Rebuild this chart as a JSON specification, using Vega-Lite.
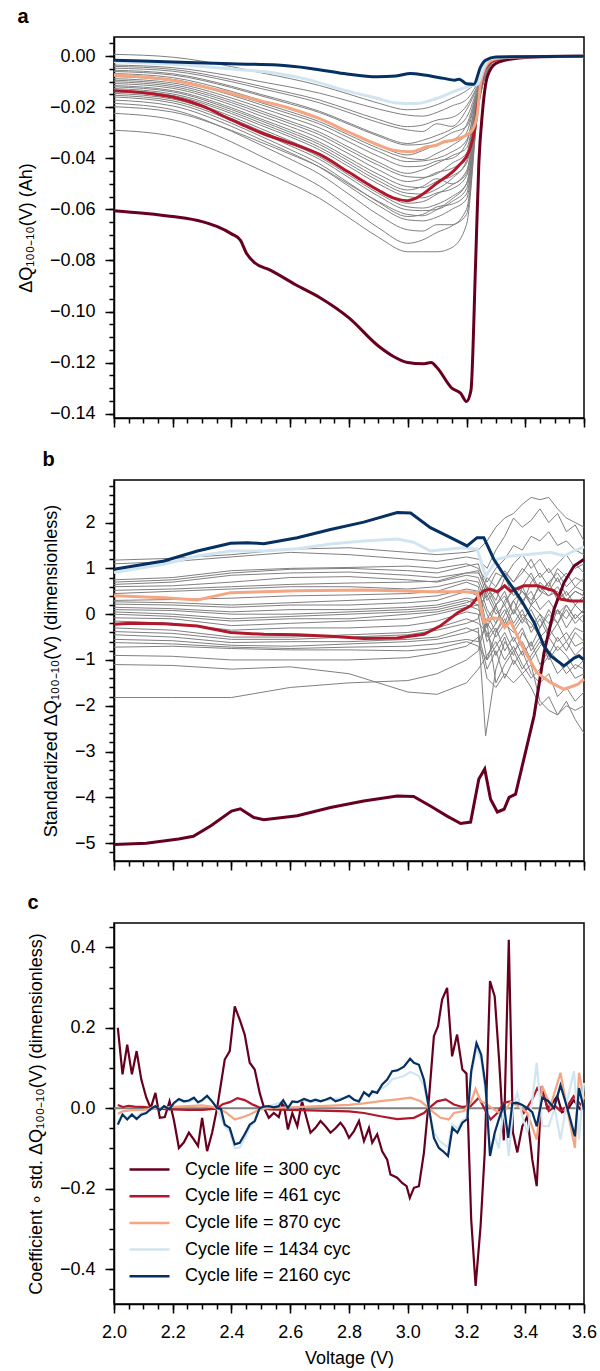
{
"$schema":"https://vega.github.io/schema/vega-lite/v6.json",
"padding":{"left":16,"top":6,"right":10,"bottom":5},
"spacing":20,
"config":{
 "font":"Liberation Sans",
 "view":{"stroke":"black","strokeWidth":1.5},
 "axis":{"domainColor":"black","domainWidth":1.5,"tickColor":"black","tickWidth":1.5,"labelFontSize":18,"titleFontSize":18,"labelColor":"black","titleColor":"black","titleFontWeight":"normal","grid":false,"labelFont":"Liberation Sans","titleFont":"Liberation Sans","labelFlush":false,"labelOverlap":false,"labelPadding":10,"titlePadding":14,"tickSize":9},
 "title":{"fontSize":20,"fontWeight":"bold","anchor":"start","color":"black","font":"Liberation Sans","offset":10},
 "legend":{"labelFont":"Liberation Sans","labelFontSize":18,"labelColor":"black","labelLimit":400}
},
"resolve":{"scale":{"color":"independent"},"legend":{"color":"independent"}},
"datasets":{
"ag":[
{"i":1,"v":2,"q":0.0007},{"i":1,"v":2.2,"q":-0.0004},{"i":1,"v":2.4,"q":-0.0041},{"i":1,"v":2.5,"q":-0.0065},{"i":1,"v":2.6,"q":-0.0088},{"i":1,"v":2.7,"q":-0.0115},{"i":1,"v":2.8,"q":-0.0149},{"i":1,"v":2.9,"q":-0.0184},{"i":1,"v":3,"q":-0.021},{"i":1,"v":3.05,"q":-0.0206},{"i":1,"v":3.1,"q":-0.019},{"i":1,"v":3.15,"q":-0.0165},{"i":1,"v":3.2,"q":-0.0135},{"i":1,"v":3.24,"q":-0.0095},{"i":1,"v":3.27,"q":-0.003},{"i":1,"v":3.3,"q":-0.001},{"i":1,"v":3.4,"q":-0.0002},{"i":1,"v":3.6,"q":0},
{"i":2,"v":2,"q":-0.0035},{"i":2,"v":2.2,"q":-0.0045},{"i":2,"v":2.4,"q":-0.0078},{"i":2,"v":2.5,"q":-0.01},{"i":2,"v":2.6,"q":-0.0121},{"i":2,"v":2.7,"q":-0.0145},{"i":2,"v":2.8,"q":-0.0176},{"i":2,"v":2.9,"q":-0.0207},{"i":2,"v":3,"q":-0.0231},{"i":2,"v":3.05,"q":-0.0235},{"i":2,"v":3.1,"q":-0.022},{"i":2,"v":3.15,"q":-0.0195},{"i":2,"v":3.2,"q":-0.017},{"i":2,"v":3.24,"q":-0.01},{"i":2,"v":3.27,"q":-0.003},{"i":2,"v":3.3,"q":-0.001},{"i":2,"v":3.4,"q":-0.0002},{"i":2,"v":3.6,"q":0},
{"i":3,"v":2,"q":-0.004},{"i":3,"v":2.2,"q":-0.0052},{"i":3,"v":2.4,"q":-0.0092},{"i":3,"v":2.5,"q":-0.0118},{"i":3,"v":2.6,"q":-0.0144},{"i":3,"v":2.7,"q":-0.0172},{"i":3,"v":2.8,"q":-0.021},{"i":3,"v":2.9,"q":-0.0248},{"i":3,"v":3,"q":-0.0276},{"i":3,"v":3.05,"q":-0.027},{"i":3,"v":3.1,"q":-0.025},{"i":3,"v":3.15,"q":-0.024},{"i":3,"v":3.2,"q":-0.0195},{"i":3,"v":3.24,"q":-0.011},{"i":3,"v":3.27,"q":-0.0035},{"i":3,"v":3.3,"q":-0.0012},{"i":3,"v":3.4,"q":-0.0002},{"i":3,"v":3.6,"q":0},
{"i":4,"v":2,"q":-0.0047},{"i":4,"v":2.2,"q":-0.0059},{"i":4,"v":2.4,"q":-0.01},{"i":4,"v":2.5,"q":-0.0127},{"i":4,"v":2.6,"q":-0.0153},{"i":4,"v":2.7,"q":-0.0183},{"i":4,"v":2.8,"q":-0.0221},{"i":4,"v":2.9,"q":-0.026},{"i":4,"v":3,"q":-0.0289},{"i":4,"v":3.05,"q":-0.0295},{"i":4,"v":3.1,"q":-0.0265},{"i":4,"v":3.15,"q":-0.0275},{"i":4,"v":3.2,"q":-0.021},{"i":4,"v":3.24,"q":-0.0115},{"i":4,"v":3.27,"q":-0.0035},{"i":4,"v":3.3,"q":-0.0012},{"i":4,"v":3.4,"q":-0.0002},{"i":4,"v":3.6,"q":0},
{"i":5,"v":2,"q":-0.0055},{"i":5,"v":2.2,"q":-0.0069},{"i":5,"v":2.4,"q":-0.0118},{"i":5,"v":2.5,"q":-0.015},{"i":5,"v":2.6,"q":-0.0181},{"i":5,"v":2.7,"q":-0.0216},{"i":5,"v":2.8,"q":-0.0262},{"i":5,"v":2.9,"q":-0.0308},{"i":5,"v":3,"q":-0.0342},{"i":5,"v":3.05,"q":-0.033},{"i":5,"v":3.1,"q":-0.031},{"i":5,"v":3.15,"q":-0.0285},{"i":5,"v":3.2,"q":-0.024},{"i":5,"v":3.24,"q":-0.012},{"i":5,"v":3.27,"q":-0.0035},{"i":5,"v":3.3,"q":-0.0012},{"i":5,"v":3.4,"q":-0.0002},{"i":5,"v":3.6,"q":0},
{"i":6,"v":2,"q":-0.006},{"i":6,"v":2.2,"q":-0.0074},{"i":6,"v":2.4,"q":-0.0123},{"i":6,"v":2.5,"q":-0.0155},{"i":6,"v":2.6,"q":-0.0187},{"i":6,"v":2.7,"q":-0.0221},{"i":6,"v":2.8,"q":-0.0267},{"i":6,"v":2.9,"q":-0.0313},{"i":6,"v":3,"q":-0.0348},{"i":6,"v":3.05,"q":-0.0345},{"i":6,"v":3.1,"q":-0.033},{"i":6,"v":3.15,"q":-0.03},{"i":6,"v":3.2,"q":-0.0275},{"i":6,"v":3.24,"q":-0.013},{"i":6,"v":3.27,"q":-0.004},{"i":6,"v":3.3,"q":-0.0012},{"i":6,"v":3.4,"q":-0.0002},{"i":6,"v":3.6,"q":0},
{"i":7,"v":2,"q":-0.0068},{"i":7,"v":2.2,"q":-0.0084},{"i":7,"v":2.4,"q":-0.0138},{"i":7,"v":2.5,"q":-0.0173},{"i":7,"v":2.6,"q":-0.0208},{"i":7,"v":2.7,"q":-0.0247},{"i":7,"v":2.8,"q":-0.0298},{"i":7,"v":2.9,"q":-0.0349},{"i":7,"v":3,"q":-0.0387},{"i":7,"v":3.05,"q":-0.037},{"i":7,"v":3.1,"q":-0.0345},{"i":7,"v":3.15,"q":-0.033},{"i":7,"v":3.2,"q":-0.027},{"i":7,"v":3.24,"q":-0.0125},{"i":7,"v":3.27,"q":-0.004},{"i":7,"v":3.3,"q":-0.0012},{"i":7,"v":3.4,"q":-0.0002},{"i":7,"v":3.6,"q":0},
{"i":8,"v":2,"q":-0.0075},{"i":8,"v":2.2,"q":-0.0091},{"i":8,"v":2.4,"q":-0.0147},{"i":8,"v":2.5,"q":-0.0182},{"i":8,"v":2.6,"q":-0.0218},{"i":8,"v":2.7,"q":-0.0257},{"i":8,"v":2.8,"q":-0.0309},{"i":8,"v":2.9,"q":-0.0361},{"i":8,"v":3,"q":-0.04},{"i":8,"v":3.05,"q":-0.0405},{"i":8,"v":3.1,"q":-0.038},{"i":8,"v":3.15,"q":-0.035},{"i":8,"v":3.2,"q":-0.03},{"i":8,"v":3.24,"q":-0.013},{"i":8,"v":3.27,"q":-0.004},{"i":8,"v":3.3,"q":-0.0013},{"i":8,"v":3.4,"q":-0.0002},{"i":8,"v":3.6,"q":0},
{"i":9,"v":2,"q":-0.008},{"i":9,"v":2.2,"q":-0.0097},{"i":9,"v":2.4,"q":-0.0153},{"i":9,"v":2.5,"q":-0.019},{"i":9,"v":2.6,"q":-0.0227},{"i":9,"v":2.7,"q":-0.0266},{"i":9,"v":2.8,"q":-0.032},{"i":9,"v":2.9,"q":-0.0373},{"i":9,"v":3,"q":-0.0413},{"i":9,"v":3.05,"q":-0.041},{"i":9,"v":3.1,"q":-0.04},{"i":9,"v":3.15,"q":-0.0375},{"i":9,"v":3.2,"q":-0.033},{"i":9,"v":3.24,"q":-0.014},{"i":9,"v":3.27,"q":-0.004},{"i":9,"v":3.3,"q":-0.0013},{"i":9,"v":3.4,"q":-0.0002},{"i":9,"v":3.6,"q":0},
{"i":10,"v":2,"q":-0.0088},{"i":10,"v":2.2,"q":-0.0105},{"i":10,"v":2.4,"q":-0.0164},{"i":10,"v":2.5,"q":-0.0202},{"i":10,"v":2.6,"q":-0.024},{"i":10,"v":2.7,"q":-0.0281},{"i":10,"v":2.8,"q":-0.0336},{"i":10,"v":2.9,"q":-0.0392},{"i":10,"v":3,"q":-0.0433},{"i":10,"v":3.05,"q":-0.043},{"i":10,"v":3.1,"q":-0.041},{"i":10,"v":3.15,"q":-0.04},{"i":10,"v":3.2,"q":-0.034},{"i":10,"v":3.24,"q":-0.0135},{"i":10,"v":3.27,"q":-0.004},{"i":10,"v":3.3,"q":-0.0013},{"i":10,"v":3.4,"q":-0.0002},{"i":10,"v":3.6,"q":0},
{"i":11,"v":2,"q":-0.0094},{"i":11,"v":2.2,"q":-0.0112},{"i":11,"v":2.4,"q":-0.0174},{"i":11,"v":2.5,"q":-0.0214},{"i":11,"v":2.6,"q":-0.0255},{"i":11,"v":2.7,"q":-0.0298},{"i":11,"v":2.8,"q":-0.0357},{"i":11,"v":2.9,"q":-0.0415},{"i":11,"v":3,"q":-0.0459},{"i":11,"v":3.05,"q":-0.0445},{"i":11,"v":3.1,"q":-0.042},{"i":11,"v":3.15,"q":-0.039},{"i":11,"v":3.2,"q":-0.036},{"i":11,"v":3.24,"q":-0.0145},{"i":11,"v":3.27,"q":-0.004},{"i":11,"v":3.3,"q":-0.0013},{"i":11,"v":3.4,"q":-0.0002},{"i":11,"v":3.6,"q":0},
{"i":12,"v":2,"q":-0.01},{"i":12,"v":2.2,"q":-0.0119},{"i":12,"v":2.4,"q":-0.0182},{"i":12,"v":2.5,"q":-0.0223},{"i":12,"v":2.6,"q":-0.0264},{"i":12,"v":2.7,"q":-0.0308},{"i":12,"v":2.8,"q":-0.0368},{"i":12,"v":2.9,"q":-0.0427},{"i":12,"v":3,"q":-0.0472},{"i":12,"v":3.05,"q":-0.0475},{"i":12,"v":3.1,"q":-0.046},{"i":12,"v":3.15,"q":-0.042},{"i":12,"v":3.2,"q":-0.038},{"i":12,"v":3.24,"q":-0.015},{"i":12,"v":3.27,"q":-0.0045},{"i":12,"v":3.3,"q":-0.0014},{"i":12,"v":3.4,"q":-0.0002},{"i":12,"v":3.6,"q":0},
{"i":13,"v":2,"q":-0.0107},{"i":13,"v":2.2,"q":-0.0126},{"i":13,"v":2.4,"q":-0.0191},{"i":13,"v":2.5,"q":-0.0234},{"i":13,"v":2.6,"q":-0.0276},{"i":13,"v":2.7,"q":-0.0322},{"i":13,"v":2.8,"q":-0.0383},{"i":13,"v":2.9,"q":-0.0445},{"i":13,"v":3,"q":-0.0491},{"i":13,"v":3.05,"q":-0.048},{"i":13,"v":3.1,"q":-0.0455},{"i":13,"v":3.15,"q":-0.044},{"i":13,"v":3.2,"q":-0.0395},{"i":13,"v":3.24,"q":-0.014},{"i":13,"v":3.27,"q":-0.0045},{"i":13,"v":3.3,"q":-0.0014},{"i":13,"v":3.4,"q":-0.0002},{"i":13,"v":3.6,"q":0},
{"i":14,"v":2,"q":-0.0115},{"i":14,"v":2.2,"q":-0.0135},{"i":14,"v":2.4,"q":-0.0202},{"i":14,"v":2.5,"q":-0.0246},{"i":14,"v":2.6,"q":-0.0289},{"i":14,"v":2.7,"q":-0.0337},{"i":14,"v":2.8,"q":-0.04},{"i":14,"v":2.9,"q":-0.0463},{"i":14,"v":3,"q":-0.0511},{"i":14,"v":3.05,"q":-0.0515},{"i":14,"v":3.1,"q":-0.049},{"i":14,"v":3.15,"q":-0.047},{"i":14,"v":3.2,"q":-0.042},{"i":14,"v":3.24,"q":-0.016},{"i":14,"v":3.27,"q":-0.0045},{"i":14,"v":3.3,"q":-0.0014},{"i":14,"v":3.4,"q":-0.0002},{"i":14,"v":3.6,"q":0},
{"i":15,"v":2,"q":-0.012},{"i":15,"v":2.2,"q":-0.014},{"i":15,"v":2.4,"q":-0.0209},{"i":15,"v":2.5,"q":-0.0253},{"i":15,"v":2.6,"q":-0.0298},{"i":15,"v":2.7,"q":-0.0346},{"i":15,"v":2.8,"q":-0.0411},{"i":15,"v":2.9,"q":-0.0476},{"i":15,"v":3,"q":-0.0524},{"i":15,"v":3.05,"q":-0.051},{"i":15,"v":3.1,"q":-0.048},{"i":15,"v":3.15,"q":-0.05},{"i":15,"v":3.2,"q":-0.045},{"i":15,"v":3.24,"q":-0.015},{"i":15,"v":3.27,"q":-0.0045},{"i":15,"v":3.3,"q":-0.0014},{"i":15,"v":3.4,"q":-0.0002},{"i":15,"v":3.6,"q":0},
{"i":16,"v":2,"q":-0.0127},{"i":16,"v":2.2,"q":-0.0148},{"i":16,"v":2.4,"q":-0.0217},{"i":16,"v":2.5,"q":-0.0262},{"i":16,"v":2.6,"q":-0.0307},{"i":16,"v":2.7,"q":-0.0357},{"i":16,"v":2.8,"q":-0.0422},{"i":16,"v":2.9,"q":-0.0488},{"i":16,"v":3,"q":-0.0537},{"i":16,"v":3.05,"q":-0.054},{"i":16,"v":3.1,"q":-0.052},{"i":16,"v":3.15,"q":-0.048},{"i":16,"v":3.2,"q":-0.041},{"i":16,"v":3.24,"q":-0.0165},{"i":16,"v":3.27,"q":-0.005},{"i":16,"v":3.3,"q":-0.0015},{"i":16,"v":3.4,"q":-0.0002},{"i":16,"v":3.6,"q":0},
{"i":17,"v":2,"q":-0.0133},{"i":17,"v":2.2,"q":-0.0154},{"i":17,"v":2.4,"q":-0.0225},{"i":17,"v":2.5,"q":-0.0271},{"i":17,"v":2.6,"q":-0.0316},{"i":17,"v":2.7,"q":-0.0367},{"i":17,"v":2.8,"q":-0.0433},{"i":17,"v":2.9,"q":-0.05},{"i":17,"v":3,"q":-0.055},{"i":17,"v":3.05,"q":-0.0555},{"i":17,"v":3.1,"q":-0.0535},{"i":17,"v":3.15,"q":-0.052},{"i":17,"v":3.2,"q":-0.047},{"i":17,"v":3.24,"q":-0.017},{"i":17,"v":3.27,"q":-0.005},{"i":17,"v":3.3,"q":-0.0015},{"i":17,"v":3.4,"q":-0.0002},{"i":17,"v":3.6,"q":0},
{"i":18,"v":2,"q":-0.014},{"i":18,"v":2.2,"q":-0.0162},{"i":18,"v":2.4,"q":-0.0236},{"i":18,"v":2.5,"q":-0.0284},{"i":18,"v":2.6,"q":-0.0332},{"i":18,"v":2.7,"q":-0.0384},{"i":18,"v":2.8,"q":-0.0454},{"i":18,"v":2.9,"q":-0.0524},{"i":18,"v":3,"q":-0.0576},{"i":18,"v":3.05,"q":-0.057},{"i":18,"v":3.1,"q":-0.054},{"i":18,"v":3.15,"q":-0.0505},{"i":18,"v":3.2,"q":-0.046},{"i":18,"v":3.24,"q":-0.016},{"i":18,"v":3.27,"q":-0.005},{"i":18,"v":3.3,"q":-0.0015},{"i":18,"v":3.4,"q":-0.0002},{"i":18,"v":3.6,"q":0},
{"i":19,"v":2,"q":-0.0146},{"i":19,"v":2.2,"q":-0.0168},{"i":19,"v":2.4,"q":-0.0244},{"i":19,"v":2.5,"q":-0.0293},{"i":19,"v":2.6,"q":-0.0341},{"i":19,"v":2.7,"q":-0.0395},{"i":19,"v":2.8,"q":-0.0466},{"i":19,"v":2.9,"q":-0.0537},{"i":19,"v":3,"q":-0.059},{"i":19,"v":3.05,"q":-0.0595},{"i":19,"v":3.1,"q":-0.058},{"i":19,"v":3.15,"q":-0.055},{"i":19,"v":3.2,"q":-0.05},{"i":19,"v":3.24,"q":-0.018},{"i":19,"v":3.27,"q":-0.0055},{"i":19,"v":3.3,"q":-0.0015},{"i":19,"v":3.4,"q":-0.0002},{"i":19,"v":3.6,"q":0},
{"i":20,"v":2,"q":-0.0153},{"i":20,"v":2.2,"q":-0.0175},{"i":20,"v":2.4,"q":-0.0252},{"i":20,"v":2.5,"q":-0.0301},{"i":20,"v":2.6,"q":-0.0351},{"i":20,"v":2.7,"q":-0.0404},{"i":20,"v":2.8,"q":-0.0476},{"i":20,"v":2.9,"q":-0.0548},{"i":20,"v":3,"q":-0.0602},{"i":20,"v":3.05,"q":-0.0605},{"i":20,"v":3.1,"q":-0.06},{"i":20,"v":3.15,"q":-0.057},{"i":20,"v":3.2,"q":-0.052},{"i":20,"v":3.24,"q":-0.017},{"i":20,"v":3.27,"q":-0.0055},{"i":20,"v":3.3,"q":-0.0016},{"i":20,"v":3.4,"q":-0.0002},{"i":20,"v":3.6,"q":0},
{"i":21,"v":2,"q":-0.016},{"i":21,"v":2.2,"q":-0.0183},{"i":21,"v":2.4,"q":-0.0263},{"i":21,"v":2.5,"q":-0.0314},{"i":21,"v":2.6,"q":-0.0366},{"i":21,"v":2.7,"q":-0.0422},{"i":21,"v":2.8,"q":-0.0497},{"i":21,"v":2.9,"q":-0.0572},{"i":21,"v":3,"q":-0.0628},{"i":21,"v":3.05,"q":-0.062},{"i":21,"v":3.1,"q":-0.059},{"i":21,"v":3.15,"q":-0.058},{"i":21,"v":3.2,"q":-0.054},{"i":21,"v":3.24,"q":-0.0185},{"i":21,"v":3.27,"q":-0.0055},{"i":21,"v":3.3,"q":-0.0016},{"i":21,"v":3.4,"q":-0.0002},{"i":21,"v":3.6,"q":0},
{"i":22,"v":2,"q":-0.0172},{"i":22,"v":2.2,"q":-0.0195},{"i":22,"v":2.4,"q":-0.0275},{"i":22,"v":2.5,"q":-0.0327},{"i":22,"v":2.6,"q":-0.0378},{"i":22,"v":2.7,"q":-0.0435},{"i":22,"v":2.8,"q":-0.051},{"i":22,"v":2.9,"q":-0.0585},{"i":22,"v":3,"q":-0.0641},{"i":22,"v":3.05,"q":-0.0645},{"i":22,"v":3.1,"q":-0.063},{"i":22,"v":3.15,"q":-0.06},{"i":22,"v":3.2,"q":-0.056},{"i":22,"v":3.24,"q":-0.019},{"i":22,"v":3.27,"q":-0.006},{"i":22,"v":3.3,"q":-0.0016},{"i":22,"v":3.4,"q":-0.0002},{"i":22,"v":3.6,"q":0},
{"i":23,"v":2,"q":-0.0185},{"i":23,"v":2.2,"q":-0.021},{"i":23,"v":2.4,"q":-0.0294},{"i":23,"v":2.5,"q":-0.0348},{"i":23,"v":2.6,"q":-0.0403},{"i":23,"v":2.7,"q":-0.0462},{"i":23,"v":2.8,"q":-0.0541},{"i":23,"v":2.9,"q":-0.0621},{"i":23,"v":3,"q":-0.068},{"i":23,"v":3.05,"q":-0.0685},{"i":23,"v":3.1,"q":-0.066},{"i":23,"v":3.15,"q":-0.066},{"i":23,"v":3.2,"q":-0.06},{"i":23,"v":3.24,"q":-0.018},{"i":23,"v":3.27,"q":-0.006},{"i":23,"v":3.3,"q":-0.0017},{"i":23,"v":3.4,"q":-0.0002},{"i":23,"v":3.6,"q":0},
{"i":24,"v":2,"q":-0.0198},{"i":24,"v":2.2,"q":-0.0219},{"i":24,"v":2.4,"q":-0.0291},{"i":24,"v":2.5,"q":-0.0337},{"i":24,"v":2.6,"q":-0.0384},{"i":24,"v":2.7,"q":-0.0434},{"i":24,"v":2.8,"q":-0.0502},{"i":24,"v":2.9,"q":-0.0569},{"i":24,"v":3,"q":-0.062},{"i":24,"v":3.05,"q":-0.0625},{"i":24,"v":3.1,"q":-0.06},{"i":24,"v":3.15,"q":-0.056},{"i":24,"v":3.2,"q":-0.05},{"i":24,"v":3.24,"q":-0.0195},{"i":24,"v":3.27,"q":-0.006},{"i":24,"v":3.3,"q":-0.0017},{"i":24,"v":3.4,"q":-0.0002},{"i":24,"v":3.6,"q":0},
{"i":25,"v":2,"q":-0.0224},{"i":25,"v":2.2,"q":-0.0249},{"i":25,"v":2.4,"q":-0.0336},{"i":25,"v":2.5,"q":-0.0392},{"i":25,"v":2.6,"q":-0.0448},{"i":25,"v":2.7,"q":-0.0509},{"i":25,"v":2.8,"q":-0.059},{"i":25,"v":2.9,"q":-0.0672},{"i":25,"v":3,"q":-0.0733},{"i":25,"v":3.05,"q":-0.072},{"i":25,"v":3.1,"q":-0.069},{"i":25,"v":3.15,"q":-0.0665},{"i":25,"v":3.2,"q":-0.062},{"i":25,"v":3.24,"q":-0.02},{"i":25,"v":3.27,"q":-0.006},{"i":25,"v":3.3,"q":-0.0018},{"i":25,"v":3.4,"q":-0.0002},{"i":25,"v":3.6,"q":0},
{"i":26,"v":2,"q":-0.029},{"i":26,"v":2.2,"q":-0.0314},{"i":26,"v":2.4,"q":-0.0395},{"i":26,"v":2.5,"q":-0.0447},{"i":26,"v":2.6,"q":-0.0499},{"i":26,"v":2.7,"q":-0.0557},{"i":26,"v":2.8,"q":-0.0633},{"i":26,"v":2.9,"q":-0.0709},{"i":26,"v":3,"q":-0.0766},{"i":26,"v":3.05,"q":-0.0766},{"i":26,"v":3.1,"q":-0.0766},{"i":26,"v":3.15,"q":-0.075},{"i":26,"v":3.2,"q":-0.066},{"i":26,"v":3.24,"q":-0.02},{"i":26,"v":3.27,"q":-0.006},{"i":26,"v":3.3,"q":-0.0018},{"i":26,"v":3.4,"q":-0.0002},{"i":26,"v":3.6,"q":0}
],
"ac":[
{"k":300,"v":2,"q":-0.0605},{"k":300,"v":2.1,"q":-0.0615},{"k":300,"v":2.2,"q":-0.0628},{"k":300,"v":2.3,"q":-0.0648},{"k":300,"v":2.35,"q":-0.0667},{"k":300,"v":2.4,"q":-0.0696},{"k":300,"v":2.43,"q":-0.072},{"k":300,"v":2.45,"q":-0.077},{"k":300,"v":2.48,"q":-0.081},{"k":300,"v":2.53,"q":-0.0837},{"k":300,"v":2.62,"q":-0.0896},{"k":300,"v":2.7,"q":-0.0945},{"k":300,"v":2.8,"q":-0.1025},{"k":300,"v":2.9,"q":-0.1135},{"k":300,"v":2.95,"q":-0.1175},{"k":300,"v":3,"q":-0.12},{"k":300,"v":3.05,"q":-0.1205},{"k":300,"v":3.08,"q":-0.12},{"k":300,"v":3.1,"q":-0.122},{"k":300,"v":3.15,"q":-0.13},{"k":300,"v":3.18,"q":-0.132},{"k":300,"v":3.2,"q":-0.1352},{"k":300,"v":3.215,"q":-0.131},{"k":300,"v":3.231,"q":-0.081},{"k":300,"v":3.242,"q":-0.042},{"k":300,"v":3.254,"q":-0.0223},{"k":300,"v":3.271,"q":-0.008},{"k":300,"v":3.3,"q":-0.0028},{"k":300,"v":3.36,"q":-0.001},{"k":300,"v":3.45,"q":-0.0002},{"k":300,"v":3.6,"q":0},
{"k":461,"v":2,"q":-0.0135},{"k":461,"v":2.1,"q":-0.0143},{"k":461,"v":2.2,"q":-0.016},{"k":461,"v":2.3,"q":-0.0195},{"k":461,"v":2.4,"q":-0.025},{"k":461,"v":2.45,"q":-0.0275},{"k":461,"v":2.5,"q":-0.03},{"k":461,"v":2.6,"q":-0.034},{"k":461,"v":2.7,"q":-0.0385},{"k":461,"v":2.8,"q":-0.0455},{"k":461,"v":2.9,"q":-0.0525},{"k":461,"v":2.95,"q":-0.0555},{"k":461,"v":3,"q":-0.0566},{"k":461,"v":3.03,"q":-0.0555},{"k":461,"v":3.1,"q":-0.0497},{"k":461,"v":3.17,"q":-0.0433},{"k":461,"v":3.21,"q":-0.0368},{"k":461,"v":3.226,"q":-0.03},{"k":461,"v":3.242,"q":-0.016},{"k":461,"v":3.26,"q":-0.0055},{"k":461,"v":3.294,"q":-0.0016},{"k":461,"v":3.35,"q":-0.0004},{"k":461,"v":3.45,"q":-0.0001},{"k":461,"v":3.6,"q":0},
{"k":870,"v":2,"q":-0.0074},{"k":870,"v":2.2,"q":-0.0095},{"k":870,"v":2.4,"q":-0.0146},{"k":870,"v":2.5,"q":-0.0175},{"k":870,"v":2.6,"q":-0.0205},{"k":870,"v":2.7,"q":-0.0245},{"k":870,"v":2.8,"q":-0.0298},{"k":870,"v":2.9,"q":-0.0348},{"k":870,"v":2.95,"q":-0.0368},{"k":870,"v":3.01,"q":-0.0374},{"k":870,"v":3.066,"q":-0.0355},{"k":870,"v":3.1,"q":-0.0348},{"k":870,"v":3.123,"q":-0.0335},{"k":870,"v":3.15,"q":-0.033},{"k":870,"v":3.19,"q":-0.0315},{"k":870,"v":3.22,"q":-0.029},{"k":870,"v":3.237,"q":-0.0223},{"k":870,"v":3.248,"q":-0.0106},{"k":870,"v":3.271,"q":-0.003},{"k":870,"v":3.3,"q":-0.001},{"k":870,"v":3.4,"q":-0.0002},{"k":870,"v":3.6,"q":0},
{"k":1434,"v":2,"q":-0.0022},{"k":1434,"v":2.2,"q":-0.0032},{"k":1434,"v":2.4,"q":-0.005},{"k":1434,"v":2.556,"q":-0.0068},{"k":1434,"v":2.669,"q":-0.0094},{"k":1434,"v":2.783,"q":-0.0133},{"k":1434,"v":2.896,"q":-0.0165},{"k":1434,"v":2.96,"q":-0.0183},{"k":1434,"v":3.032,"q":-0.0185},{"k":1434,"v":3.1,"q":-0.0165},{"k":1434,"v":3.169,"q":-0.0133},{"k":1434,"v":3.22,"q":-0.0115},{"k":1434,"v":3.237,"q":-0.011},{"k":1434,"v":3.26,"q":-0.0042},{"k":1434,"v":3.28,"q":-0.001},{"k":1434,"v":3.35,"q":-0.0002},{"k":1434,"v":3.6,"q":0},
{"k":2160,"v":2,"q":-0.0016},{"k":2160,"v":2.2,"q":-0.0023},{"k":2160,"v":2.4,"q":-0.003},{"k":2160,"v":2.556,"q":-0.0035},{"k":2160,"v":2.669,"q":-0.0048},{"k":2160,"v":2.783,"q":-0.0068},{"k":2160,"v":2.896,"q":-0.0081},{"k":2160,"v":2.96,"q":-0.0078},{"k":2160,"v":3.01,"q":-0.0068},{"k":2160,"v":3.055,"q":-0.0074},{"k":2160,"v":3.123,"q":-0.0087},{"k":2160,"v":3.16,"q":-0.0094},{"k":2160,"v":3.175,"q":-0.009},{"k":2160,"v":3.2,"q":-0.0108},{"k":2160,"v":3.225,"q":-0.011},{"k":2160,"v":3.248,"q":-0.0042},{"k":2160,"v":3.265,"q":-0.0016},{"k":2160,"v":3.3,"q":-0.0003},{"k":2160,"v":3.6,"q":0}
],
"bg":[
{"i":1,"v":2,"z":1.18},{"i":1,"v":2.2,"z":1.22},{"i":1,"v":2.4,"z":1.3},{"i":1,"v":2.6,"z":1.42},{"i":1,"v":2.8,"z":1.45},{"i":1,"v":3,"z":1.35},{"i":1,"v":3.1,"z":1.3},{"i":1,"v":3.2,"z":1.35},{"i":1,"v":3.24,"z":1.4},{"i":1,"v":3.27,"z":1.6},{"i":1,"v":3.3,"z":1.9},{"i":1,"v":3.33,"z":2.1},{"i":1,"v":3.36,"z":2.2},{"i":1,"v":3.39,"z":2.4},{"i":1,"v":3.42,"z":2.55},{"i":1,"v":3.45,"z":2.5},{"i":1,"v":3.48,"z":2.55},{"i":1,"v":3.51,"z":2.3},{"i":1,"v":3.54,"z":2.1},{"i":1,"v":3.57,"z":2.0},{"i":1,"v":3.6,"z":1.9},
{"i":2,"v":2,"z":1.1},{"i":2,"v":2.2,"z":1.15},{"i":2,"v":2.4,"z":1.25},{"i":2,"v":2.6,"z":1.35},{"i":2,"v":2.8,"z":1.3},{"i":2,"v":3,"z":1.2},{"i":2,"v":3.1,"z":1.15},{"i":2,"v":3.2,"z":1.25},{"i":2,"v":3.24,"z":1.2},{"i":2,"v":3.27,"z":1.0},{"i":2,"v":3.3,"z":1.4},{"i":2,"v":3.33,"z":1.7},{"i":2,"v":3.36,"z":2.1},{"i":2,"v":3.39,"z":1.9},{"i":2,"v":3.42,"z":2.05},{"i":2,"v":3.45,"z":2.3},{"i":2,"v":3.48,"z":2.0},{"i":2,"v":3.51,"z":2.2},{"i":2,"v":3.54,"z":1.8},{"i":2,"v":3.57,"z":1.95},{"i":2,"v":3.6,"z":1.6},
{"i":3,"v":2,"z":0.75},{"i":3,"v":2.2,"z":0.8},{"i":3,"v":2.4,"z":0.95},{"i":3,"v":2.6,"z":1.0},{"i":3,"v":2.8,"z":1.02},{"i":3,"v":3,"z":1.05},{"i":3,"v":3.1,"z":1.0},{"i":3,"v":3.2,"z":1.1},{"i":3,"v":3.24,"z":1.0},{"i":3,"v":3.27,"z":0.7},{"i":3,"v":3.3,"z":1.0},{"i":3,"v":3.33,"z":1.2},{"i":3,"v":3.36,"z":1.5},{"i":3,"v":3.39,"z":1.4},{"i":3,"v":3.42,"z":1.7},{"i":3,"v":3.45,"z":1.6},{"i":3,"v":3.48,"z":1.8},{"i":3,"v":3.51,"z":1.5},{"i":3,"v":3.54,"z":1.6},{"i":3,"v":3.57,"z":1.4},{"i":3,"v":3.6,"z":1.3},
{"i":4,"v":2,"z":0.7},{"i":4,"v":2.2,"z":0.75},{"i":4,"v":2.4,"z":0.9},{"i":4,"v":2.6,"z":0.98},{"i":4,"v":2.8,"z":1.0},{"i":4,"v":3,"z":0.95},{"i":4,"v":3.1,"z":0.9},{"i":4,"v":3.2,"z":1.05},{"i":4,"v":3.24,"z":1.1},{"i":4,"v":3.27,"z":0.5},{"i":4,"v":3.3,"z":0.9},{"i":4,"v":3.33,"z":0.8},{"i":4,"v":3.36,"z":1.1},{"i":4,"v":3.39,"z":1.3},{"i":4,"v":3.42,"z":1.0},{"i":4,"v":3.45,"z":1.2},{"i":4,"v":3.48,"z":0.9},{"i":4,"v":3.51,"z":1.1},{"i":4,"v":3.54,"z":1.3},{"i":4,"v":3.57,"z":1.0},{"i":4,"v":3.6,"z":1.1},
{"i":5,"v":2,"z":0.65},{"i":5,"v":2.2,"z":0.7},{"i":5,"v":2.4,"z":0.85},{"i":5,"v":2.6,"z":0.9},{"i":5,"v":2.8,"z":0.92},{"i":5,"v":3,"z":0.85},{"i":5,"v":3.1,"z":0.8},{"i":5,"v":3.2,"z":0.9},{"i":5,"v":3.24,"z":0.95},{"i":5,"v":3.27,"z":0.4},{"i":5,"v":3.3,"z":0.6},{"i":5,"v":3.33,"z":0.95},{"i":5,"v":3.36,"z":0.7},{"i":5,"v":3.39,"z":0.9},{"i":5,"v":3.42,"z":1.2},{"i":5,"v":3.45,"z":0.8},{"i":5,"v":3.48,"z":1.0},{"i":5,"v":3.51,"z":0.7},{"i":5,"v":3.54,"z":0.9},{"i":5,"v":3.57,"z":0.6},{"i":5,"v":3.6,"z":0.8},
{"i":6,"v":2,"z":0.6},{"i":6,"v":2.2,"z":0.62},{"i":6,"v":2.4,"z":0.7},{"i":6,"v":2.6,"z":0.8},{"i":6,"v":2.8,"z":0.82},{"i":6,"v":3,"z":0.75},{"i":6,"v":3.1,"z":0.7},{"i":6,"v":3.2,"z":0.85},{"i":6,"v":3.24,"z":0.8},{"i":6,"v":3.27,"z":0.3},{"i":6,"v":3.3,"z":0.5},{"i":6,"v":3.33,"z":0.2},{"i":6,"v":3.36,"z":0.6},{"i":6,"v":3.39,"z":0.5},{"i":6,"v":3.42,"z":0.3},{"i":6,"v":3.45,"z":0.6},{"i":6,"v":3.48,"z":0.4},{"i":6,"v":3.51,"z":0.5},{"i":6,"v":3.54,"z":0.3},{"i":6,"v":3.57,"z":0.5},{"i":6,"v":3.6,"z":0.4},
{"i":7,"v":2,"z":0.52},{"i":7,"v":2.2,"z":0.55},{"i":7,"v":2.4,"z":0.6},{"i":7,"v":2.6,"z":0.65},{"i":7,"v":2.8,"z":0.68},{"i":7,"v":3,"z":0.7},{"i":7,"v":3.1,"z":0.72},{"i":7,"v":3.2,"z":0.9},{"i":7,"v":3.24,"z":0.9},{"i":7,"v":3.27,"z":0.6},{"i":7,"v":3.3,"z":0.2},{"i":7,"v":3.33,"z":0.5},{"i":7,"v":3.36,"z":0.0},{"i":7,"v":3.39,"z":0.3},{"i":7,"v":3.42,"z":0.5},{"i":7,"v":3.45,"z":0.1},{"i":7,"v":3.48,"z":0.3},{"i":7,"v":3.51,"z":0.0},{"i":7,"v":3.54,"z":0.2},{"i":7,"v":3.57,"z":-0.1},{"i":7,"v":3.6,"z":0.1},
{"i":8,"v":2,"z":0.45},{"i":8,"v":2.2,"z":0.5},{"i":8,"v":2.4,"z":0.55},{"i":8,"v":2.6,"z":0.6},{"i":8,"v":2.8,"z":0.6},{"i":8,"v":3,"z":0.55},{"i":8,"v":3.1,"z":0.6},{"i":8,"v":3.2,"z":0.75},{"i":8,"v":3.24,"z":0.7},{"i":8,"v":3.27,"z":0.1},{"i":8,"v":3.3,"z":-0.2},{"i":8,"v":3.33,"z":0.1},{"i":8,"v":3.36,"z":-0.3},{"i":8,"v":3.39,"z":0.0},{"i":8,"v":3.42,"z":-0.2},{"i":8,"v":3.45,"z":-0.5},{"i":8,"v":3.48,"z":-0.3},{"i":8,"v":3.51,"z":-0.6},{"i":8,"v":3.54,"z":-0.4},{"i":8,"v":3.57,"z":-0.7},{"i":8,"v":3.6,"z":-0.6},
{"i":9,"v":2,"z":0.3},{"i":9,"v":2.2,"z":0.32},{"i":9,"v":2.4,"z":0.35},{"i":9,"v":2.6,"z":0.4},{"i":9,"v":2.8,"z":0.42},{"i":9,"v":3,"z":0.45},{"i":9,"v":3.1,"z":0.5},{"i":9,"v":3.2,"z":0.7},{"i":9,"v":3.24,"z":0.6},{"i":9,"v":3.27,"z":-0.3},{"i":9,"v":3.3,"z":0.2},{"i":9,"v":3.33,"z":0.4},{"i":9,"v":3.36,"z":0.0},{"i":9,"v":3.39,"z":0.6},{"i":9,"v":3.42,"z":0.2},{"i":9,"v":3.45,"z":0.4},{"i":9,"v":3.48,"z":0.7},{"i":9,"v":3.51,"z":0.3},{"i":9,"v":3.54,"z":0.5},{"i":9,"v":3.57,"z":0.2},{"i":9,"v":3.6,"z":0.4},
{"i":10,"v":2,"z":0.27},{"i":10,"v":2.2,"z":0.25},{"i":10,"v":2.4,"z":0.2},{"i":10,"v":2.6,"z":0.25},{"i":10,"v":2.8,"z":0.3},{"i":10,"v":3,"z":0.35},{"i":10,"v":3.1,"z":0.4},{"i":10,"v":3.2,"z":0.55},{"i":10,"v":3.24,"z":0.5},{"i":10,"v":3.27,"z":0.0},{"i":10,"v":3.3,"z":-0.4},{"i":10,"v":3.33,"z":-0.1},{"i":10,"v":3.36,"z":-0.6},{"i":10,"v":3.39,"z":-0.3},{"i":10,"v":3.42,"z":-0.8},{"i":10,"v":3.45,"z":-0.5},{"i":10,"v":3.48,"z":-1.0},{"i":10,"v":3.51,"z":-0.7},{"i":10,"v":3.54,"z":-0.9},{"i":10,"v":3.57,"z":-1.2},{"i":10,"v":3.6,"z":-1.0},
{"i":11,"v":2,"z":0.22},{"i":11,"v":2.2,"z":0.2},{"i":11,"v":2.4,"z":0.15},{"i":11,"v":2.6,"z":0.2},{"i":11,"v":2.8,"z":0.2},{"i":11,"v":3,"z":0.25},{"i":11,"v":3.1,"z":0.3},{"i":11,"v":3.2,"z":0.5},{"i":11,"v":3.24,"z":0.4},{"i":11,"v":3.27,"z":-0.5},{"i":11,"v":3.3,"z":-0.2},{"i":11,"v":3.33,"z":0.3},{"i":11,"v":3.36,"z":0.5},{"i":11,"v":3.39,"z":0.2},{"i":11,"v":3.42,"z":0.7},{"i":11,"v":3.45,"z":0.9},{"i":11,"v":3.48,"z":0.6},{"i":11,"v":3.51,"z":1.0},{"i":11,"v":3.54,"z":0.8},{"i":11,"v":3.57,"z":1.1},{"i":11,"v":3.6,"z":0.9},
{"i":12,"v":2,"z":0.15},{"i":12,"v":2.2,"z":0.12},{"i":12,"v":2.4,"z":0.05},{"i":12,"v":2.6,"z":0.1},{"i":12,"v":2.8,"z":0.1},{"i":12,"v":3,"z":0.15},{"i":12,"v":3.1,"z":0.2},{"i":12,"v":3.2,"z":0.35},{"i":12,"v":3.24,"z":0.3},{"i":12,"v":3.27,"z":0.5},{"i":12,"v":3.3,"z":0.1},{"i":12,"v":3.33,"z":-0.2},{"i":12,"v":3.36,"z":0.3},{"i":12,"v":3.39,"z":-0.1},{"i":12,"v":3.42,"z":0.1},{"i":12,"v":3.45,"z":-0.3},{"i":12,"v":3.48,"z":0.0},{"i":12,"v":3.51,"z":-0.2},{"i":12,"v":3.54,"z":0.1},{"i":12,"v":3.57,"z":-0.2},{"i":12,"v":3.6,"z":0.0},
{"i":13,"v":2,"z":0.1},{"i":13,"v":2.2,"z":0.08},{"i":13,"v":2.4,"z":0.0},{"i":13,"v":2.6,"z":0.0},{"i":13,"v":2.8,"z":0.05},{"i":13,"v":3,"z":0.1},{"i":13,"v":3.1,"z":0.15},{"i":13,"v":3.2,"z":0.3},{"i":13,"v":3.24,"z":0.2},{"i":13,"v":3.27,"z":-0.6},{"i":13,"v":3.3,"z":-0.3},{"i":13,"v":3.33,"z":-0.8},{"i":13,"v":3.36,"z":-0.5},{"i":13,"v":3.39,"z":-0.9},{"i":13,"v":3.42,"z":-0.6},{"i":13,"v":3.45,"z":-1.1},{"i":13,"v":3.48,"z":-0.8},{"i":13,"v":3.51,"z":-1.0},{"i":13,"v":3.54,"z":-1.3},{"i":13,"v":3.57,"z":-1.1},{"i":13,"v":3.6,"z":-1.2},
{"i":14,"v":2,"z":0.05},{"i":14,"v":2.2,"z":0.0},{"i":14,"v":2.4,"z":-0.1},{"i":14,"v":2.6,"z":-0.05},{"i":14,"v":2.8,"z":0.0},{"i":14,"v":3,"z":0.05},{"i":14,"v":3.1,"z":0.1},{"i":14,"v":3.2,"z":0.25},{"i":14,"v":3.24,"z":0.35},{"i":14,"v":3.27,"z":0.8},{"i":14,"v":3.3,"z":0.6},{"i":14,"v":3.33,"z":0.9},{"i":14,"v":3.36,"z":0.7},{"i":14,"v":3.39,"z":1.0},{"i":14,"v":3.42,"z":0.8},{"i":14,"v":3.45,"z":0.5},{"i":14,"v":3.48,"z":0.7},{"i":14,"v":3.51,"z":0.9},{"i":14,"v":3.54,"z":0.6},{"i":14,"v":3.57,"z":0.8},{"i":14,"v":3.6,"z":0.7},
{"i":15,"v":2,"z":0.0},{"i":15,"v":2.2,"z":-0.05},{"i":15,"v":2.4,"z":-0.15},{"i":15,"v":2.6,"z":-0.1},{"i":15,"v":2.8,"z":-0.1},{"i":15,"v":3,"z":0.0},{"i":15,"v":3.1,"z":0.05},{"i":15,"v":3.2,"z":0.2},{"i":15,"v":3.24,"z":0.1},{"i":15,"v":3.27,"z":-0.2},{"i":15,"v":3.3,"z":-0.5},{"i":15,"v":3.33,"z":-0.2},{"i":15,"v":3.36,"z":-0.4},{"i":15,"v":3.39,"z":-0.1},{"i":15,"v":3.42,"z":-0.3},{"i":15,"v":3.45,"z":0.0},{"i":15,"v":3.48,"z":-0.2},{"i":15,"v":3.51,"z":0.1},{"i":15,"v":3.54,"z":-0.1},{"i":15,"v":3.57,"z":0.2},{"i":15,"v":3.6,"z":0.0},
{"i":16,"v":2,"z":-0.08},{"i":16,"v":2.2,"z":-0.1},{"i":16,"v":2.4,"z":-0.25},{"i":16,"v":2.6,"z":-0.2},{"i":16,"v":2.8,"z":-0.15},{"i":16,"v":3,"z":-0.1},{"i":16,"v":3.1,"z":0.0},{"i":16,"v":3.2,"z":0.15},{"i":16,"v":3.24,"z":0.2},{"i":16,"v":3.27,"z":0.4},{"i":16,"v":3.3,"z":0.0},{"i":16,"v":3.33,"z":0.2},{"i":16,"v":3.36,"z":-0.2},{"i":16,"v":3.39,"z":0.1},{"i":16,"v":3.42,"z":-0.4},{"i":16,"v":3.45,"z":-0.1},{"i":16,"v":3.48,"z":-0.5},{"i":16,"v":3.51,"z":-0.2},{"i":16,"v":3.54,"z":-0.6},{"i":16,"v":3.57,"z":-0.3},{"i":16,"v":3.6,"z":-0.4},
{"i":17,"v":2,"z":-0.15},{"i":17,"v":2.2,"z":-0.2},{"i":17,"v":2.4,"z":-0.35},{"i":17,"v":2.6,"z":-0.3},{"i":17,"v":2.8,"z":-0.3},{"i":17,"v":3,"z":-0.25},{"i":17,"v":3.1,"z":-0.15},{"i":17,"v":3.2,"z":0.05},{"i":17,"v":3.24,"z":0.0},{"i":17,"v":3.27,"z":-1.0},{"i":17,"v":3.3,"z":-0.7},{"i":17,"v":3.33,"z":-0.4},{"i":17,"v":3.36,"z":-0.8},{"i":17,"v":3.39,"z":-0.6},{"i":17,"v":3.42,"z":-1.0},{"i":17,"v":3.45,"z":-0.7},{"i":17,"v":3.48,"z":-0.5},{"i":17,"v":3.51,"z":-0.8},{"i":17,"v":3.54,"z":-0.6},{"i":17,"v":3.57,"z":-0.9},{"i":17,"v":3.6,"z":-0.7},
{"i":18,"v":2,"z":-0.3},{"i":18,"v":2.2,"z":-0.35},{"i":18,"v":2.4,"z":-0.5},{"i":18,"v":2.6,"z":-0.5},{"i":18,"v":2.8,"z":-0.45},{"i":18,"v":3,"z":-0.4},{"i":18,"v":3.1,"z":-0.3},{"i":18,"v":3.2,"z":-0.1},{"i":18,"v":3.24,"z":-0.2},{"i":18,"v":3.27,"z":-0.4},{"i":18,"v":3.3,"z":-0.9},{"i":18,"v":3.33,"z":-0.5},{"i":18,"v":3.36,"z":-1.1},{"i":18,"v":3.39,"z":-0.8},{"i":18,"v":3.42,"z":-1.3},{"i":18,"v":3.45,"z":-1.5},{"i":18,"v":3.48,"z":-1.3},{"i":18,"v":3.51,"z":-1.8},{"i":18,"v":3.54,"z":-1.6},{"i":18,"v":3.57,"z":-1.9},{"i":18,"v":3.6,"z":-1.7},
{"i":19,"v":2,"z":-0.38},{"i":19,"v":2.2,"z":-0.42},{"i":19,"v":2.4,"z":-0.55},{"i":19,"v":2.6,"z":-0.55},{"i":19,"v":2.8,"z":-0.5},{"i":19,"v":3,"z":-0.45},{"i":19,"v":3.1,"z":-0.35},{"i":19,"v":3.2,"z":-0.2},{"i":19,"v":3.24,"z":-0.1},{"i":19,"v":3.27,"z":0.6},{"i":19,"v":3.3,"z":0.3},{"i":19,"v":3.33,"z":0.8},{"i":19,"v":3.36,"z":0.4},{"i":19,"v":3.39,"z":0.6},{"i":19,"v":3.42,"z":0.9},{"i":19,"v":3.45,"z":0.5},{"i":19,"v":3.48,"z":0.4},{"i":19,"v":3.51,"z":0.6},{"i":19,"v":3.54,"z":0.3},{"i":19,"v":3.57,"z":0.5},{"i":19,"v":3.6,"z":0.4},
{"i":20,"v":2,"z":-0.45},{"i":20,"v":2.2,"z":-0.5},{"i":20,"v":2.4,"z":-0.62},{"i":20,"v":2.6,"z":-0.6},{"i":20,"v":2.8,"z":-0.6},{"i":20,"v":3,"z":-0.55},{"i":20,"v":3.1,"z":-0.5},{"i":20,"v":3.2,"z":-0.3},{"i":20,"v":3.24,"z":-0.4},{"i":20,"v":3.27,"z":-1.2},{"i":20,"v":3.3,"z":-0.8},{"i":20,"v":3.33,"z":-1.4},{"i":20,"v":3.36,"z":-1.0},{"i":20,"v":3.39,"z":-1.3},{"i":20,"v":3.42,"z":-1.1},{"i":20,"v":3.45,"z":-1.9},{"i":20,"v":3.48,"z":-2.1},{"i":20,"v":3.51,"z":-2.2},{"i":20,"v":3.54,"z":-1.9},{"i":20,"v":3.57,"z":-2.3},{"i":20,"v":3.6,"z":-2.6},
{"i":21,"v":2,"z":-0.55},{"i":21,"v":2.2,"z":-0.58},{"i":21,"v":2.4,"z":-0.68},{"i":21,"v":2.6,"z":-0.7},{"i":21,"v":2.8,"z":-0.65},{"i":21,"v":3,"z":-0.6},{"i":21,"v":3.1,"z":-0.55},{"i":21,"v":3.2,"z":-0.4},{"i":21,"v":3.24,"z":-0.3},{"i":21,"v":3.265,"z":-2.66},{"i":21,"v":3.3,"z":-1.2},{"i":21,"v":3.33,"z":-0.6},{"i":21,"v":3.36,"z":-0.9},{"i":21,"v":3.39,"z":-0.4},{"i":21,"v":3.42,"z":-0.7},{"i":21,"v":3.45,"z":-0.3},{"i":21,"v":3.48,"z":0.1},{"i":21,"v":3.51,"z":-0.2},{"i":21,"v":3.54,"z":0.2},{"i":21,"v":3.57,"z":-0.1},{"i":21,"v":3.6,"z":0.1},
{"i":22,"v":2,"z":-0.62},{"i":22,"v":2.2,"z":-0.65},{"i":22,"v":2.4,"z":-0.72},{"i":22,"v":2.6,"z":-0.75},{"i":22,"v":2.8,"z":-0.72},{"i":22,"v":3,"z":-0.7},{"i":22,"v":3.1,"z":-0.65},{"i":22,"v":3.2,"z":-0.55},{"i":22,"v":3.24,"z":-0.6},{"i":22,"v":3.27,"z":-0.2},{"i":22,"v":3.3,"z":-1.5},{"i":22,"v":3.33,"z":-1.1},{"i":22,"v":3.36,"z":-0.8},{"i":22,"v":3.39,"z":-1.2},{"i":22,"v":3.42,"z":-0.9},{"i":22,"v":3.45,"z":-0.6},{"i":22,"v":3.48,"z":-0.9},{"i":22,"v":3.51,"z":-0.5},{"i":22,"v":3.54,"z":-0.8},{"i":22,"v":3.57,"z":-0.4},{"i":22,"v":3.6,"z":-0.6},
{"i":23,"v":2,"z":-0.72},{"i":23,"v":2.2,"z":-0.7},{"i":23,"v":2.4,"z":-0.75},{"i":23,"v":2.6,"z":-0.78},{"i":23,"v":2.8,"z":-0.78},{"i":23,"v":3,"z":-0.8},{"i":23,"v":3.1,"z":-0.75},{"i":23,"v":3.2,"z":-0.6},{"i":23,"v":3.24,"z":-0.7},{"i":23,"v":3.27,"z":-1.0},{"i":23,"v":3.3,"z":-0.4},{"i":23,"v":3.33,"z":0.0},{"i":23,"v":3.36,"z":0.3},{"i":23,"v":3.39,"z":0.5},{"i":23,"v":3.42,"z":0.2},{"i":23,"v":3.45,"z":0.7},{"i":23,"v":3.48,"z":0.5},{"i":23,"v":3.51,"z":0.8},{"i":23,"v":3.54,"z":0.4},{"i":23,"v":3.57,"z":0.6},{"i":23,"v":3.6,"z":0.5},
{"i":24,"v":2,"z":-0.9},{"i":24,"v":2.2,"z":-0.92},{"i":24,"v":2.4,"z":-1.0},{"i":24,"v":2.6,"z":-1.0},{"i":24,"v":2.8,"z":-1.0},{"i":24,"v":3,"z":-0.95},{"i":24,"v":3.1,"z":-0.85},{"i":24,"v":3.2,"z":-0.7},{"i":24,"v":3.24,"z":-0.5},{"i":24,"v":3.27,"z":-1.4},{"i":24,"v":3.3,"z":-1.6},{"i":24,"v":3.33,"z":-1.3},{"i":24,"v":3.36,"z":-1.5},{"i":24,"v":3.39,"z":-1.3},{"i":24,"v":3.42,"z":-1.6},{"i":24,"v":3.45,"z":-2.0},{"i":24,"v":3.48,"z":-1.8},{"i":24,"v":3.51,"z":-2.2},{"i":24,"v":3.54,"z":-2.0},{"i":24,"v":3.57,"z":-2.1},{"i":24,"v":3.6,"z":-2.0},
{"i":25,"v":2,"z":-1.1},{"i":25,"v":2.2,"z":-1.12},{"i":25,"v":2.4,"z":-1.2},{"i":25,"v":2.6,"z":-1.15},{"i":25,"v":2.8,"z":-1.3},{"i":25,"v":3,"z":-1.7},{"i":25,"v":3.1,"z":-1.75},{"i":25,"v":3.2,"z":-1.5},{"i":25,"v":3.24,"z":-1.2},{"i":25,"v":3.27,"z":-0.9},{"i":25,"v":3.3,"z":-0.6},{"i":25,"v":3.33,"z":-1.0},{"i":25,"v":3.36,"z":-0.7},{"i":25,"v":3.39,"z":-1.1},{"i":25,"v":3.42,"z":-1.4},{"i":25,"v":3.45,"z":-1.2},{"i":25,"v":3.48,"z":-0.9},{"i":25,"v":3.51,"z":-1.3},{"i":25,"v":3.54,"z":-1.1},{"i":25,"v":3.57,"z":-1.4},{"i":25,"v":3.6,"z":-1.3},
{"i":26,"v":2,"z":-1.82},{"i":26,"v":2.2,"z":-1.82},{"i":26,"v":2.4,"z":-1.82},{"i":26,"v":2.6,"z":-1.6},{"i":26,"v":2.8,"z":-1.5},{"i":26,"v":3,"z":-1.45},{"i":26,"v":3.1,"z":-1.3},{"i":26,"v":3.2,"z":-1.0},{"i":26,"v":3.24,"z":-0.8},{"i":26,"v":3.27,"z":-0.1},{"i":26,"v":3.3,"z":0.2},{"i":26,"v":3.33,"z":-0.3},{"i":26,"v":3.36,"z":0.1},{"i":26,"v":3.39,"z":-0.2},{"i":26,"v":3.42,"z":0.2},{"i":26,"v":3.45,"z":0.0},{"i":26,"v":3.48,"z":-0.4},{"i":26,"v":3.51,"z":0.1},{"i":26,"v":3.54,"z":-0.3},{"i":26,"v":3.57,"z":0.0},{"i":26,"v":3.6,"z":-0.2}
],
"bc":[
{"k":300,"v":2,"z":-5.03},{"k":300,"v":2.11,"z":-5.0},{"k":300,"v":2.22,"z":-4.91},{"k":300,"v":2.27,"z":-4.85},{"k":300,"v":2.33,"z":-4.62},{"k":300,"v":2.4,"z":-4.3},{"k":300,"v":2.43,"z":-4.25},{"k":300,"v":2.476,"z":-4.44},{"k":300,"v":2.51,"z":-4.49},{"k":300,"v":2.624,"z":-4.4},{"k":300,"v":2.737,"z":-4.22},{"k":300,"v":2.85,"z":-4.08},{"k":300,"v":2.964,"z":-3.97},{"k":300,"v":3.02,"z":-3.98},{"k":300,"v":3.077,"z":-4.19},{"k":300,"v":3.134,"z":-4.41},{"k":300,"v":3.18,"z":-4.57},{"k":300,"v":3.214,"z":-4.54},{"k":300,"v":3.242,"z":-3.6},{"k":300,"v":3.262,"z":-3.38},{"k":300,"v":3.282,"z":-4.04},{"k":300,"v":3.305,"z":-4.32},{"k":300,"v":3.328,"z":-4.26},{"k":300,"v":3.345,"z":-4.0},{"k":300,"v":3.367,"z":-3.93},{"k":300,"v":3.395,"z":-3.17},{"k":300,"v":3.43,"z":-2.22},{"k":300,"v":3.464,"z":-0.84},{"k":300,"v":3.498,"z":0.11},{"k":300,"v":3.532,"z":0.69},{"k":300,"v":3.566,"z":1.05},{"k":300,"v":3.6,"z":1.2},
{"k":461,"v":2,"z":-0.22},{"k":461,"v":2.06,"z":-0.2},{"k":461,"v":2.17,"z":-0.21},{"k":461,"v":2.284,"z":-0.26},{"k":461,"v":2.397,"z":-0.4},{"k":461,"v":2.51,"z":-0.44},{"k":461,"v":2.624,"z":-0.45},{"k":461,"v":2.737,"z":-0.48},{"k":461,"v":2.85,"z":-0.53},{"k":461,"v":2.964,"z":-0.52},{"k":461,"v":3.055,"z":-0.44},{"k":461,"v":3.11,"z":-0.26},{"k":461,"v":3.17,"z":0.03},{"k":461,"v":3.214,"z":0.18},{"k":461,"v":3.242,"z":0.4},{"k":461,"v":3.259,"z":0.51},{"k":461,"v":3.28,"z":0.55},{"k":461,"v":3.305,"z":0.49},{"k":461,"v":3.33,"z":0.62},{"k":461,"v":3.35,"z":0.5},{"k":461,"v":3.395,"z":0.62},{"k":461,"v":3.441,"z":0.62},{"k":461,"v":3.498,"z":0.51},{"k":461,"v":3.52,"z":0.33},{"k":461,"v":3.555,"z":0.29},{"k":461,"v":3.6,"z":0.29},
{"k":870,"v":2,"z":0.4},{"k":870,"v":2.17,"z":0.36},{"k":870,"v":2.284,"z":0.31},{"k":870,"v":2.397,"z":0.47},{"k":870,"v":2.51,"z":0.49},{"k":870,"v":2.624,"z":0.51},{"k":870,"v":2.85,"z":0.53},{"k":870,"v":2.964,"z":0.51},{"k":870,"v":3.077,"z":0.49},{"k":870,"v":3.19,"z":0.49},{"k":870,"v":3.237,"z":0.47},{"k":870,"v":3.26,"z":-0.18},{"k":870,"v":3.29,"z":-0.08},{"k":870,"v":3.316,"z":-0.11},{"k":870,"v":3.33,"z":-0.29},{"k":870,"v":3.35,"z":-0.16},{"k":870,"v":3.395,"z":-0.77},{"k":870,"v":3.44,"z":-1.28},{"k":870,"v":3.486,"z":-1.49},{"k":870,"v":3.532,"z":-1.64},{"k":870,"v":3.58,"z":-1.53},{"k":870,"v":3.6,"z":-1.42},
{"k":1434,"v":2,"z":0.91},{"k":1434,"v":2.17,"z":1.09},{"k":1434,"v":2.284,"z":1.27},{"k":1434,"v":2.397,"z":1.38},{"k":1434,"v":2.51,"z":1.38},{"k":1434,"v":2.624,"z":1.43},{"k":1434,"v":2.737,"z":1.53},{"k":1434,"v":2.85,"z":1.6},{"k":1434,"v":2.964,"z":1.64},{"k":1434,"v":3.02,"z":1.57},{"k":1434,"v":3.077,"z":1.38},{"k":1434,"v":3.19,"z":1.45},{"k":1434,"v":3.236,"z":1.42},{"k":1434,"v":3.265,"z":0.83},{"k":1434,"v":3.305,"z":1.2},{"k":1434,"v":3.35,"z":1.27},{"k":1434,"v":3.418,"z":1.31},{"k":1434,"v":3.487,"z":1.35},{"k":1434,"v":3.532,"z":1.27},{"k":1434,"v":3.566,"z":1.38},{"k":1434,"v":3.6,"z":1.47},
{"k":2160,"v":2,"z":0.98},{"k":2160,"v":2.17,"z":1.16},{"k":2160,"v":2.284,"z":1.38},{"k":2160,"v":2.397,"z":1.55},{"k":2160,"v":2.454,"z":1.56},{"k":2160,"v":2.51,"z":1.54},{"k":2160,"v":2.624,"z":1.67},{"k":2160,"v":2.737,"z":1.85},{"k":2160,"v":2.85,"z":2.01},{"k":2160,"v":2.964,"z":2.22},{"k":2160,"v":3.01,"z":2.21},{"k":2160,"v":3.077,"z":1.89},{"k":2160,"v":3.134,"z":1.71},{"k":2160,"v":3.202,"z":1.49},{"k":2160,"v":3.236,"z":1.67},{"k":2160,"v":3.259,"z":1.67},{"k":2160,"v":3.293,"z":1.2},{"k":2160,"v":3.33,"z":0.83},{"k":2160,"v":3.384,"z":0.33},{"k":2160,"v":3.43,"z":-0.18},{"k":2160,"v":3.464,"z":-0.69},{"k":2160,"v":3.487,"z":-0.91},{"k":2160,"v":3.532,"z":-1.13},{"k":2160,"v":3.566,"z":-0.96},{"k":2160,"v":3.583,"z":-0.91},{"k":2160,"v":3.6,"z":-1.0}
],
"cc":[
{"k":300,"v":2.013,"c":0.2},{"k":300,"v":2.029,"c":0.084},{"k":300,"v":2.045,"c":0.158},{"k":300,"v":2.061,"c":0.084},{"k":300,"v":2.077,"c":0.142},{"k":300,"v":2.093,"c":0.071},{"k":300,"v":2.11,"c":0.026},{"k":300,"v":2.125,"c":0.0},{"k":300,"v":2.141,"c":0.038},{"k":300,"v":2.156,"c":-0.024},{"k":300,"v":2.173,"c":-0.022},{"k":300,"v":2.189,"c":0.017},{"k":300,"v":2.204,"c":-0.03},{"k":300,"v":2.221,"c":-0.099},{"k":300,"v":2.238,"c":-0.085},{"k":300,"v":2.255,"c":-0.061},{"k":300,"v":2.272,"c":-0.078},{"k":300,"v":2.286,"c":-0.094},{"k":300,"v":2.3,"c":-0.024},{"k":300,"v":2.317,"c":-0.107},{"k":300,"v":2.334,"c":-0.061},{"k":300,"v":2.351,"c":0.0},{"k":300,"v":2.364,"c":0.06},{"k":300,"v":2.377,"c":0.121},{"k":300,"v":2.394,"c":0.142},{"k":300,"v":2.411,"c":0.253},{"k":300,"v":2.428,"c":0.22},{"k":300,"v":2.445,"c":0.183},{"k":300,"v":2.462,"c":0.113},{"k":300,"v":2.479,"c":0.096},{"k":300,"v":2.496,"c":0.038},{"k":300,"v":2.511,"c":0.0},{"k":300,"v":2.527,"c":-0.024},{"k":300,"v":2.544,"c":-0.012},{"k":300,"v":2.561,"c":-0.022},{"k":300,"v":2.576,"c":0.017},{"k":300,"v":2.592,"c":-0.053},{"k":300,"v":2.607,"c":-0.012},{"k":300,"v":2.624,"c":-0.045},{"k":300,"v":2.64,"c":0.017},{"k":300,"v":2.669,"c":-0.061},{"k":300,"v":2.686,"c":-0.049},{"k":300,"v":2.703,"c":-0.032},{"k":300,"v":2.72,"c":-0.045},{"k":300,"v":2.737,"c":-0.061},{"k":300,"v":2.754,"c":-0.05},{"k":300,"v":2.771,"c":-0.036},{"k":300,"v":2.785,"c":-0.05},{"k":300,"v":2.8,"c":-0.074},{"k":300,"v":2.817,"c":-0.057},{"k":300,"v":2.834,"c":-0.032},{"k":300,"v":2.851,"c":-0.082},{"k":300,"v":2.868,"c":-0.049},{"k":300,"v":2.879,"c":-0.086},{"k":300,"v":2.896,"c":-0.065},{"k":300,"v":2.913,"c":-0.107},{"k":300,"v":2.93,"c":-0.128},{"k":300,"v":2.941,"c":-0.165},{"k":300,"v":2.964,"c":-0.173},{"k":300,"v":2.981,"c":-0.186},{"k":300,"v":2.996,"c":-0.194},{"k":300,"v":3.007,"c":-0.223},{"k":300,"v":3.021,"c":-0.198},{"k":300,"v":3.038,"c":-0.194},{"k":300,"v":3.055,"c":-0.111},{"k":300,"v":3.072,"c":0.022},{"k":300,"v":3.089,"c":0.179},{"k":300,"v":3.103,"c":0.204},{"k":300,"v":3.117,"c":0.27},{"k":300,"v":3.134,"c":0.299},{"k":300,"v":3.151,"c":0.129},{"k":300,"v":3.168,"c":0.183},{"k":300,"v":3.186,"c":0.096},{"k":300,"v":3.2,"c":0.086},{"k":300,"v":3.216,"c":-0.277},{"k":300,"v":3.231,"c":-0.442},{"k":300,"v":3.248,"c":-0.293},{"k":300,"v":3.262,"c":-0.111},{"k":300,"v":3.28,"c":0.316},{"k":300,"v":3.296,"c":0.278},{"k":300,"v":3.311,"c":0.12},{"k":300,"v":3.327,"c":-0.08},{"k":300,"v":3.344,"c":0.419},{"k":300,"v":3.358,"c":-0.06},{"k":300,"v":3.373,"c":-0.11},{"k":300,"v":3.39,"c":-0.045},{"k":300,"v":3.407,"c":-0.02},{"k":300,"v":3.424,"c":-0.128},{"k":300,"v":3.439,"c":-0.194},{"k":300,"v":3.456,"c":0.055},{"k":300,"v":3.475,"c":0.0},{"k":300,"v":3.49,"c":0.01},{"k":300,"v":3.509,"c":0.03},{"k":300,"v":3.525,"c":-0.01},{"k":300,"v":3.543,"c":-0.005},{"k":300,"v":3.565,"c":0.02},{"k":300,"v":3.588,"c":-0.003},{"k":300,"v":3.6,"c":0.0},
{"k":461,"v":2.013,"c":0.008},{"k":461,"v":2.03,"c":0.003},{"k":461,"v":2.05,"c":0.006},{"k":461,"v":2.07,"c":0.004},{"k":461,"v":2.1,"c":0.003},{"k":461,"v":2.13,"c":0.0},{"k":461,"v":2.16,"c":-0.002},{"k":461,"v":2.2,"c":-0.003},{"k":461,"v":2.25,"c":-0.004},{"k":461,"v":2.3,"c":-0.004},{"k":461,"v":2.35,"c":-0.001},{"k":461,"v":2.37,"c":0.01},{"k":461,"v":2.394,"c":0.015},{"k":461,"v":2.42,"c":0.025},{"k":461,"v":2.445,"c":0.02},{"k":461,"v":2.47,"c":0.01},{"k":461,"v":2.5,"c":0.0},{"k":461,"v":2.53,"c":-0.003},{"k":461,"v":2.6,"c":-0.004},{"k":461,"v":2.7,"c":-0.006},{"k":461,"v":2.8,"c":-0.008},{"k":461,"v":2.851,"c":-0.012},{"k":461,"v":2.907,"c":-0.02},{"k":461,"v":2.964,"c":-0.027},{"k":461,"v":3.021,"c":-0.024},{"k":461,"v":3.055,"c":-0.012},{"k":461,"v":3.072,"c":0.0},{"k":461,"v":3.1,"c":0.017},{"k":461,"v":3.129,"c":0.022},{"k":461,"v":3.157,"c":0.009},{"k":461,"v":3.186,"c":0.003},{"k":461,"v":3.214,"c":0.005},{"k":461,"v":3.242,"c":0.026},{"k":461,"v":3.265,"c":-0.007},{"k":461,"v":3.282,"c":-0.028},{"k":461,"v":3.305,"c":-0.012},{"k":461,"v":3.327,"c":0.013},{"k":461,"v":3.35,"c":0.017},{"k":461,"v":3.373,"c":0.013},{"k":461,"v":3.395,"c":-0.012},{"k":461,"v":3.424,"c":0.022},{"k":461,"v":3.441,"c":0.05},{"k":461,"v":3.464,"c":0.03},{"k":461,"v":3.48,"c":-0.007},{"k":461,"v":3.503,"c":0.005},{"k":461,"v":3.52,"c":-0.007},{"k":461,"v":3.543,"c":0.005},{"k":461,"v":3.565,"c":0.03},{"k":461,"v":3.588,"c":0.009},{"k":461,"v":3.6,"c":0.0},
{"k":870,"v":2.013,"c":-0.014},{"k":870,"v":2.03,"c":-0.008},{"k":870,"v":2.06,"c":-0.005},{"k":870,"v":2.1,"c":-0.004},{"k":870,"v":2.15,"c":0.0},{"k":870,"v":2.2,"c":0.003},{"k":870,"v":2.25,"c":0.005},{"k":870,"v":2.3,"c":0.007},{"k":870,"v":2.33,"c":0.004},{"k":870,"v":2.35,"c":0.0},{"k":870,"v":2.38,"c":-0.01},{"k":870,"v":2.411,"c":-0.028},{"k":870,"v":2.44,"c":-0.022},{"k":870,"v":2.462,"c":-0.016},{"k":870,"v":2.49,"c":-0.005},{"k":870,"v":2.52,"c":0.0},{"k":870,"v":2.6,"c":0.002},{"k":870,"v":2.7,"c":0.005},{"k":870,"v":2.8,"c":0.008},{"k":870,"v":2.851,"c":0.012},{"k":870,"v":2.9,"c":0.017},{"k":870,"v":2.964,"c":0.022},{"k":870,"v":3.01,"c":0.026},{"k":870,"v":3.044,"c":0.017},{"k":870,"v":3.072,"c":0.0},{"k":870,"v":3.09,"c":-0.012},{"k":870,"v":3.112,"c":-0.024},{"k":870,"v":3.14,"c":-0.028},{"k":870,"v":3.157,"c":-0.012},{"k":870,"v":3.191,"c":-0.007},{"k":870,"v":3.214,"c":0.013},{"k":870,"v":3.231,"c":0.048},{"k":870,"v":3.248,"c":0.017},{"k":870,"v":3.265,"c":0.012},{"k":870,"v":3.293,"c":-0.003},{"k":870,"v":3.322,"c":-0.016},{"k":870,"v":3.35,"c":0.015},{"k":870,"v":3.378,"c":0.005},{"k":870,"v":3.407,"c":-0.012},{"k":870,"v":3.439,"c":-0.078},{"k":870,"v":3.458,"c":0.055},{"k":870,"v":3.486,"c":0.005},{"k":870,"v":3.52,"c":0.088},{"k":870,"v":3.543,"c":-0.003},{"k":870,"v":3.569,"c":-0.099},{"k":870,"v":3.583,"c":0.088},{"k":870,"v":3.6,"c":0.022},
{"k":1434,"v":2.013,"c":-0.035},{"k":1434,"v":2.029,"c":-0.014},{"k":1434,"v":2.045,"c":-0.025},{"k":1434,"v":2.061,"c":-0.014},{"k":1434,"v":2.077,"c":-0.024},{"k":1434,"v":2.093,"c":-0.012},{"k":1434,"v":2.11,"c":-0.01},{"k":1434,"v":2.125,"c":0.0},{"k":1434,"v":2.141,"c":0.004},{"k":1434,"v":2.156,"c":-0.004},{"k":1434,"v":2.17,"c":0.004},{"k":1434,"v":2.189,"c":0.0},{"k":1434,"v":2.204,"c":0.011},{"k":1434,"v":2.221,"c":0.02},{"k":1434,"v":2.238,"c":0.015},{"k":1434,"v":2.255,"c":0.016},{"k":1434,"v":2.272,"c":0.022},{"k":1434,"v":2.286,"c":0.013},{"k":1434,"v":2.3,"c":0.018},{"k":1434,"v":2.317,"c":0.027},{"k":1434,"v":2.334,"c":0.015},{"k":1434,"v":2.351,"c":0.0},{"k":1434,"v":2.377,"c":-0.045},{"k":1434,"v":2.394,"c":-0.058},{"k":1434,"v":2.411,"c":-0.1},{"k":1434,"v":2.428,"c":-0.098},{"k":1434,"v":2.445,"c":-0.075},{"k":1434,"v":2.462,"c":-0.048},{"k":1434,"v":2.479,"c":-0.035},{"k":1434,"v":2.496,"c":0.0},{"k":1434,"v":2.527,"c":0.004},{"k":1434,"v":2.576,"c":0.017},{"k":1434,"v":2.592,"c":0.0},{"k":1434,"v":2.607,"c":0.014},{"k":1434,"v":2.647,"c":0.02},{"k":1434,"v":2.669,"c":0.015},{"k":1434,"v":2.737,"c":0.022},{"k":1434,"v":2.8,"c":0.027},{"k":1434,"v":2.834,"c":0.015},{"k":1434,"v":2.851,"c":0.034},{"k":1434,"v":2.879,"c":0.036},{"k":1434,"v":2.913,"c":0.05},{"k":1434,"v":2.93,"c":0.058},{"k":1434,"v":2.947,"c":0.072},{"k":1434,"v":2.964,"c":0.075},{"k":1434,"v":2.987,"c":0.08},{"k":1434,"v":3.008,"c":0.09},{"k":1434,"v":3.021,"c":0.086},{"k":1434,"v":3.038,"c":0.08},{"k":1434,"v":3.055,"c":0.055},{"k":1434,"v":3.072,"c":0.0},{"k":1434,"v":3.089,"c":-0.06},{"k":1434,"v":3.106,"c":-0.08},{"k":1434,"v":3.123,"c":-0.09},{"k":1434,"v":3.137,"c":-0.098},{"k":1434,"v":3.152,"c":-0.04},{"k":1434,"v":3.169,"c":-0.05},{"k":1434,"v":3.186,"c":-0.03},{"k":1434,"v":3.203,"c":-0.022},{"k":1434,"v":3.216,"c":0.08},{"k":1434,"v":3.234,"c":0.15},{"k":1434,"v":3.25,"c":0.12},{"k":1434,"v":3.265,"c":0.04},{"k":1434,"v":3.28,"c":-0.1},{"k":1434,"v":3.296,"c":-0.07},{"k":1434,"v":3.31,"c":-0.1},{"k":1434,"v":3.327,"c":0.0},{"k":1434,"v":3.344,"c":-0.119},{"k":1434,"v":3.36,"c":0.01},{"k":1434,"v":3.373,"c":0.038},{"k":1434,"v":3.39,"c":-0.02},{"k":1434,"v":3.407,"c":-0.061},{"k":1434,"v":3.424,"c":0.02},{"k":1434,"v":3.439,"c":0.113},{"k":1434,"v":3.458,"c":-0.045},{"k":1434,"v":3.48,"c":-0.045},{"k":1434,"v":3.5,"c":0.0},{"k":1434,"v":3.52,"c":-0.078},{"k":1434,"v":3.543,"c":0.02},{"k":1434,"v":3.566,"c":0.092},{"k":1434,"v":3.583,"c":-0.078},{"k":1434,"v":3.6,"c":0.063},
{"k":2160,"v":2.013,"c":-0.041},{"k":2160,"v":2.029,"c":-0.016},{"k":2160,"v":2.045,"c":-0.028},{"k":2160,"v":2.061,"c":-0.016},{"k":2160,"v":2.077,"c":-0.027},{"k":2160,"v":2.093,"c":-0.016},{"k":2160,"v":2.11,"c":-0.012},{"k":2160,"v":2.125,"c":-0.002},{"k":2160,"v":2.141,"c":0.005},{"k":2160,"v":2.156,"c":-0.005},{"k":2160,"v":2.17,"c":0.005},{"k":2160,"v":2.189,"c":-0.002},{"k":2160,"v":2.204,"c":0.013},{"k":2160,"v":2.221,"c":0.023},{"k":2160,"v":2.238,"c":0.017},{"k":2160,"v":2.255,"c":0.019},{"k":2160,"v":2.272,"c":0.026},{"k":2160,"v":2.286,"c":0.015},{"k":2160,"v":2.3,"c":0.02},{"k":2160,"v":2.317,"c":0.031},{"k":2160,"v":2.334,"c":0.017},{"k":2160,"v":2.351,"c":0.0},{"k":2160,"v":2.364,"c":-0.002},{"k":2160,"v":2.377,"c":-0.041},{"k":2160,"v":2.394,"c":-0.049},{"k":2160,"v":2.411,"c":-0.09},{"k":2160,"v":2.428,"c":-0.086},{"k":2160,"v":2.445,"c":-0.065},{"k":2160,"v":2.462,"c":-0.041},{"k":2160,"v":2.479,"c":-0.032},{"k":2160,"v":2.496,"c":0.0},{"k":2160,"v":2.511,"c":0.004},{"k":2160,"v":2.527,"c":0.005},{"k":2160,"v":2.544,"c":0.002},{"k":2160,"v":2.561,"c":0.005},{"k":2160,"v":2.576,"c":0.02},{"k":2160,"v":2.592,"c":0.0},{"k":2160,"v":2.607,"c":0.017},{"k":2160,"v":2.624,"c":0.015},{"k":2160,"v":2.647,"c":0.023},{"k":2160,"v":2.669,"c":0.017},{"k":2160,"v":2.686,"c":0.021},{"k":2160,"v":2.703,"c":0.017},{"k":2160,"v":2.72,"c":0.021},{"k":2160,"v":2.737,"c":0.026},{"k":2160,"v":2.754,"c":0.017},{"k":2160,"v":2.771,"c":0.021},{"k":2160,"v":2.8,"c":0.031},{"k":2160,"v":2.817,"c":0.021},{"k":2160,"v":2.834,"c":0.017},{"k":2160,"v":2.851,"c":0.04},{"k":2160,"v":2.868,"c":0.03},{"k":2160,"v":2.879,"c":0.042},{"k":2160,"v":2.896,"c":0.038},{"k":2160,"v":2.913,"c":0.059},{"k":2160,"v":2.93,"c":0.071},{"k":2160,"v":2.947,"c":0.092},{"k":2160,"v":2.964,"c":0.094},{"k":2160,"v":2.987,"c":0.103},{"k":2160,"v":3.008,"c":0.123},{"k":2160,"v":3.021,"c":0.113},{"k":2160,"v":3.038,"c":0.108},{"k":2160,"v":3.055,"c":0.071},{"k":2160,"v":3.072,"c":0.0},{"k":2160,"v":3.089,"c":-0.074},{"k":2160,"v":3.106,"c":-0.099},{"k":2160,"v":3.123,"c":-0.109},{"k":2160,"v":3.137,"c":-0.119},{"k":2160,"v":3.152,"c":-0.049},{"k":2160,"v":3.169,"c":-0.061},{"k":2160,"v":3.186,"c":-0.036},{"k":2160,"v":3.203,"c":-0.027},{"k":2160,"v":3.216,"c":0.092},{"k":2160,"v":3.234,"c":0.162},{"k":2160,"v":3.25,"c":0.133},{"k":2160,"v":3.265,"c":0.055},{"k":2160,"v":3.28,"c":-0.119},{"k":2160,"v":3.296,"c":-0.061},{"k":2160,"v":3.31,"c":-0.028},{"k":2160,"v":3.327,"c":0.009},{"k":2160,"v":3.342,"c":-0.074},{"k":2160,"v":3.356,"c":0.012},{"k":2160,"v":3.373,"c":0.013},{"k":2160,"v":3.39,"c":0.008},{"k":2160,"v":3.407,"c":0.0},{"k":2160,"v":3.424,"c":-0.01},{"k":2160,"v":3.439,"c":-0.045},{"k":2160,"v":3.458,"c":0.026},{"k":2160,"v":3.478,"c":0.018},{"k":2160,"v":3.498,"c":0.0},{"k":2160,"v":3.52,"c":0.057},{"k":2160,"v":3.543,"c":0.0},{"k":2160,"v":3.569,"c":-0.07},{"k":2160,"v":3.583,"c":0.05},{"k":2160,"v":3.6,"c":-0.003}
]
},
"vconcat":[
{
 "width":470,"height":381,
 "title":{"text":"a"},
 "resolve":{"axis":{"x":"independent","y":"independent"}},
 "layer":[
  {"data":{"name":"ag"},"mark":{"type":"line","color":"#808080","strokeWidth":1,"interpolate":"monotone"},
   "encoding":{
    "x":{"field":"v","type":"quantitative","scale":{"domain":[2,3.6],"nice":false,"zero":false},"axis":{"orient":"bottom","values":[2,2.2,2.4,2.6,2.8,3,3.2,3.4,3.6],"labels":false,"title":null}},
    "y":{"field":"q","type":"quantitative","scale":{"domain":[-0.1417,0.0075],"nice":false,"zero":false},"axis":{"orient":"left","values":[-0.14,-0.12,-0.1,-0.08,-0.06,-0.04,-0.02,0],"format":".2f","title":"ΔQ₁₀₀₋₁₀(V) (Ah)"}},
    "detail":{"field":"i","type":"nominal"}}},
  {"data":{"name":"ac"},"transform":[{"filter":"datum.k==300"}],"mark":{"type":"line","color":"#67001f","strokeWidth":3,"interpolate":"monotone"},
   "encoding":{
    "x":{"field":"v","type":"quantitative","scale":{"domain":[2,3.6],"nice":false,"zero":false},"axis":{"orient":"bottom","values":[2,2.05,2.1,2.15,2.2,2.25,2.3,2.35,2.4,2.45,2.5,2.55,2.6,2.65,2.7,2.75,2.8,2.85,2.9,2.95,3,3.05,3.1,3.15,3.2,3.25,3.3,3.35,3.4,3.45,3.5,3.55,3.6],"labels":false,"title":null,"domain":false,"tickSize":5}},
    "y":{"field":"q","type":"quantitative","scale":{"domain":[-0.1417,0.0075],"nice":false,"zero":false},"axis":{"orient":"left","values":[-0.14,-0.135,-0.13,-0.125,-0.12,-0.115,-0.11,-0.105,-0.1,-0.095,-0.09,-0.085,-0.08,-0.075,-0.07,-0.065,-0.06,-0.055,-0.05,-0.045,-0.04,-0.035,-0.03,-0.025,-0.02,-0.015,-0.01,-0.005,0,0.005],"labels":false,"title":null,"domain":false,"tickSize":5}}}},
  {"data":{"name":"ac"},"transform":[{"filter":"datum.k==461"}],"mark":{"type":"line","color":"#b2182b","strokeWidth":3,"interpolate":"monotone"},
   "encoding":{"x":{"field":"v","type":"quantitative","scale":{"domain":[2,3.6],"nice":false,"zero":false},"axis":null},"y":{"field":"q","type":"quantitative","scale":{"domain":[-0.1417,0.0075],"nice":false,"zero":false},"axis":null}}},
  {"data":{"name":"ac"},"transform":[{"filter":"datum.k==870"}],"mark":{"type":"line","color":"#f4a582","strokeWidth":3,"interpolate":"monotone"},
   "encoding":{"x":{"field":"v","type":"quantitative","scale":{"domain":[2,3.6],"nice":false,"zero":false},"axis":null},"y":{"field":"q","type":"quantitative","scale":{"domain":[-0.1417,0.0075],"nice":false,"zero":false},"axis":null}}},
  {"data":{"name":"ac"},"transform":[{"filter":"datum.k==1434"}],"mark":{"type":"line","color":"#d1e5f0","strokeWidth":3,"interpolate":"monotone"},
   "encoding":{"x":{"field":"v","type":"quantitative","scale":{"domain":[2,3.6],"nice":false,"zero":false},"axis":null},"y":{"field":"q","type":"quantitative","scale":{"domain":[-0.1417,0.0075],"nice":false,"zero":false},"axis":null}}},
  {"data":{"name":"ac"},"transform":[{"filter":"datum.k==2160"}],"mark":{"type":"line","color":"#053061","strokeWidth":3,"interpolate":"monotone"},
   "encoding":{"x":{"field":"v","type":"quantitative","scale":{"domain":[2,3.6],"nice":false,"zero":false},"axis":null},"y":{"field":"q","type":"quantitative","scale":{"domain":[-0.1417,0.0075],"nice":false,"zero":false},"axis":null}}}
 ]
},
{
 "width":470,"height":381,
 "title":{"text":"b"},
 "resolve":{"axis":{"x":"independent","y":"independent"}},
 "layer":[
  {"data":{"name":"bg"},"mark":{"type":"line","color":"#808080","strokeWidth":1},
   "encoding":{
    "x":{"field":"v","type":"quantitative","scale":{"domain":[2,3.6],"nice":false,"zero":false},"axis":{"orient":"bottom","values":[2,2.2,2.4,2.6,2.8,3,3.2,3.4,3.6],"labels":false,"title":null}},
    "y":{"field":"z","type":"quantitative","scale":{"domain":[-5.39,2.93],"nice":false,"zero":false},"axis":{"orient":"left","values":[-5,-4,-3,-2,-1,0,1,2],"format":"d","title":"Standardized ΔQ₁₀₀₋₁₀(V) (dimensionless)"}},
    "detail":{"field":"i","type":"nominal"}}},
  {"data":{"name":"bc"},"transform":[{"filter":"datum.k==300"}],"mark":{"type":"line","color":"#67001f","strokeWidth":3},
   "encoding":{
    "x":{"field":"v","type":"quantitative","scale":{"domain":[2,3.6],"nice":false,"zero":false},"axis":{"orient":"bottom","values":[2,2.05,2.1,2.15,2.2,2.25,2.3,2.35,2.4,2.45,2.5,2.55,2.6,2.65,2.7,2.75,2.8,2.85,2.9,2.95,3,3.05,3.1,3.15,3.2,3.25,3.3,3.35,3.4,3.45,3.5,3.55,3.6],"labels":false,"title":null,"domain":false,"tickSize":5}},
    "y":{"field":"z","type":"quantitative","scale":{"domain":[-5.39,2.93],"nice":false,"zero":false},"axis":{"orient":"left","values":[-5.2,-5,-4.8,-4.6,-4.4,-4.2,-4,-3.8,-3.6,-3.4,-3.2,-3,-2.8,-2.6,-2.4,-2.2,-2,-1.8,-1.6,-1.4,-1.2,-1,-0.8,-0.6,-0.4,-0.2,0,0.2,0.4,0.6,0.8,1,1.2,1.4,1.6,1.8,2,2.2,2.4,2.6,2.8],"labels":false,"title":null,"domain":false,"tickSize":5}}}},
  {"data":{"name":"bc"},"transform":[{"filter":"datum.k==461"}],"mark":{"type":"line","color":"#b2182b","strokeWidth":3},
   "encoding":{"x":{"field":"v","type":"quantitative","scale":{"domain":[2,3.6],"nice":false,"zero":false},"axis":null},"y":{"field":"z","type":"quantitative","scale":{"domain":[-5.39,2.93],"nice":false,"zero":false},"axis":null}}},
  {"data":{"name":"bc"},"transform":[{"filter":"datum.k==870"}],"mark":{"type":"line","color":"#f4a582","strokeWidth":3},
   "encoding":{"x":{"field":"v","type":"quantitative","scale":{"domain":[2,3.6],"nice":false,"zero":false},"axis":null},"y":{"field":"z","type":"quantitative","scale":{"domain":[-5.39,2.93],"nice":false,"zero":false},"axis":null}}},
  {"data":{"name":"bc"},"transform":[{"filter":"datum.k==1434"}],"mark":{"type":"line","color":"#d1e5f0","strokeWidth":3},
   "encoding":{"x":{"field":"v","type":"quantitative","scale":{"domain":[2,3.6],"nice":false,"zero":false},"axis":null},"y":{"field":"z","type":"quantitative","scale":{"domain":[-5.39,2.93],"nice":false,"zero":false},"axis":null}}},
  {"data":{"name":"bc"},"transform":[{"filter":"datum.k==2160"}],"mark":{"type":"line","color":"#053061","strokeWidth":3},
   "encoding":{"x":{"field":"v","type":"quantitative","scale":{"domain":[2,3.6],"nice":false,"zero":false},"axis":null},"y":{"field":"z","type":"quantitative","scale":{"domain":[-5.39,2.93],"nice":false,"zero":false},"axis":null}}}
 ]
},
{
 "width":470,"height":381,
 "title":{"text":"c"},
 "resolve":{"axis":{"x":"independent","y":"independent"}},
 "layer":[
  {"data":{"values":[{"z":0}]},"mark":{"type":"rule","color":"#808080","strokeWidth":2},
   "encoding":{"y":{"field":"z","type":"quantitative","scale":{"domain":[-0.487,0.4605],"nice":false,"zero":false},"axis":{"orient":"left","values":[-0.4,-0.2,0,0.2,0.4],"format":".1f","title":"Coefficient ∘ std. ΔQ₁₀₀₋₁₀(V) (dimensionless)"}}}},
  {"data":{"name":"cc"},"transform":[{"filter":"datum.k==300"}],"mark":{"type":"line","strokeWidth":2.2},
   "encoding":{
    "x":{"field":"v","type":"quantitative","scale":{"domain":[2,3.6],"nice":false,"zero":false},"axis":{"orient":"bottom","values":[2,2.2,2.4,2.6,2.8,3,3.2,3.4,3.6],"format":".1f","title":"Voltage (V)","titlePadding":8}},
    "y":{"field":"c","type":"quantitative","scale":{"domain":[-0.487,0.4605],"nice":false,"zero":false},"axis":{"orient":"left","values":[-0.45,-0.4,-0.35,-0.3,-0.25,-0.2,-0.15,-0.1,-0.05,0,0.05,0.1,0.15,0.2,0.25,0.3,0.35,0.4,0.45],"labels":false,"title":null,"domain":false,"tickSize":5}},
    "color":{"field":"k","type":"nominal","scale":{"domain":[300,461,870,1434,2160],"range":["#67001f","#b2182b","#f4a582","#d1e5f0","#053061"]},
     "legend":{"orient":"none","legendX":14,"legendY":234,"title":null,"symbolType":"stroke","symbolSize":1600,"symbolStrokeWidth":2.5,"labelFontSize":18,"labelOffset":14,"labelLimit":400,"clipHeight":25,"rowPadding":1.7,"labelExpr":"'Cycle life = ' + datum.label + ' cyc'"}}}},
  {"data":{"name":"cc"},"transform":[{"filter":"datum.k==461"}],"mark":{"type":"line","strokeWidth":2.2},
   "encoding":{
    "x":{"field":"v","type":"quantitative","scale":{"domain":[2,3.6],"nice":false,"zero":false},"axis":{"orient":"bottom","values":[2,2.05,2.1,2.15,2.2,2.25,2.3,2.35,2.4,2.45,2.5,2.55,2.6,2.65,2.7,2.75,2.8,2.85,2.9,2.95,3,3.05,3.1,3.15,3.2,3.25,3.3,3.35,3.4,3.45,3.5,3.55,3.6],"labels":false,"title":null,"domain":false,"tickSize":5}},
    "y":{"field":"c","type":"quantitative","scale":{"domain":[-0.487,0.4605],"nice":false,"zero":false},"axis":null},
    "color":{"field":"k","type":"nominal","scale":{"domain":[300,461,870,1434,2160],"range":["#67001f","#b2182b","#f4a582","#d1e5f0","#053061"]}}}},
  {"data":{"name":"cc"},"transform":[{"filter":"datum.k==870"}],"mark":{"type":"line","strokeWidth":2.2},
   "encoding":{"x":{"field":"v","type":"quantitative","scale":{"domain":[2,3.6],"nice":false,"zero":false},"axis":null},"y":{"field":"c","type":"quantitative","scale":{"domain":[-0.487,0.4605],"nice":false,"zero":false},"axis":null},
    "color":{"field":"k","type":"nominal","scale":{"domain":[300,461,870,1434,2160],"range":["#67001f","#b2182b","#f4a582","#d1e5f0","#053061"]}}}},
  {"data":{"name":"cc"},"transform":[{"filter":"datum.k==1434"}],"mark":{"type":"line","strokeWidth":2.2},
   "encoding":{"x":{"field":"v","type":"quantitative","scale":{"domain":[2,3.6],"nice":false,"zero":false},"axis":null},"y":{"field":"c","type":"quantitative","scale":{"domain":[-0.487,0.4605],"nice":false,"zero":false},"axis":null},
    "color":{"field":"k","type":"nominal","scale":{"domain":[300,461,870,1434,2160],"range":["#67001f","#b2182b","#f4a582","#d1e5f0","#053061"]}}}},
  {"data":{"name":"cc"},"transform":[{"filter":"datum.k==2160"}],"mark":{"type":"line","strokeWidth":2.2},
   "encoding":{"x":{"field":"v","type":"quantitative","scale":{"domain":[2,3.6],"nice":false,"zero":false},"axis":null},"y":{"field":"c","type":"quantitative","scale":{"domain":[-0.487,0.4605],"nice":false,"zero":false},"axis":null},
    "color":{"field":"k","type":"nominal","scale":{"domain":[300,461,870,1434,2160],"range":["#67001f","#b2182b","#f4a582","#d1e5f0","#053061"]}}}}
 ]
}
]
}
